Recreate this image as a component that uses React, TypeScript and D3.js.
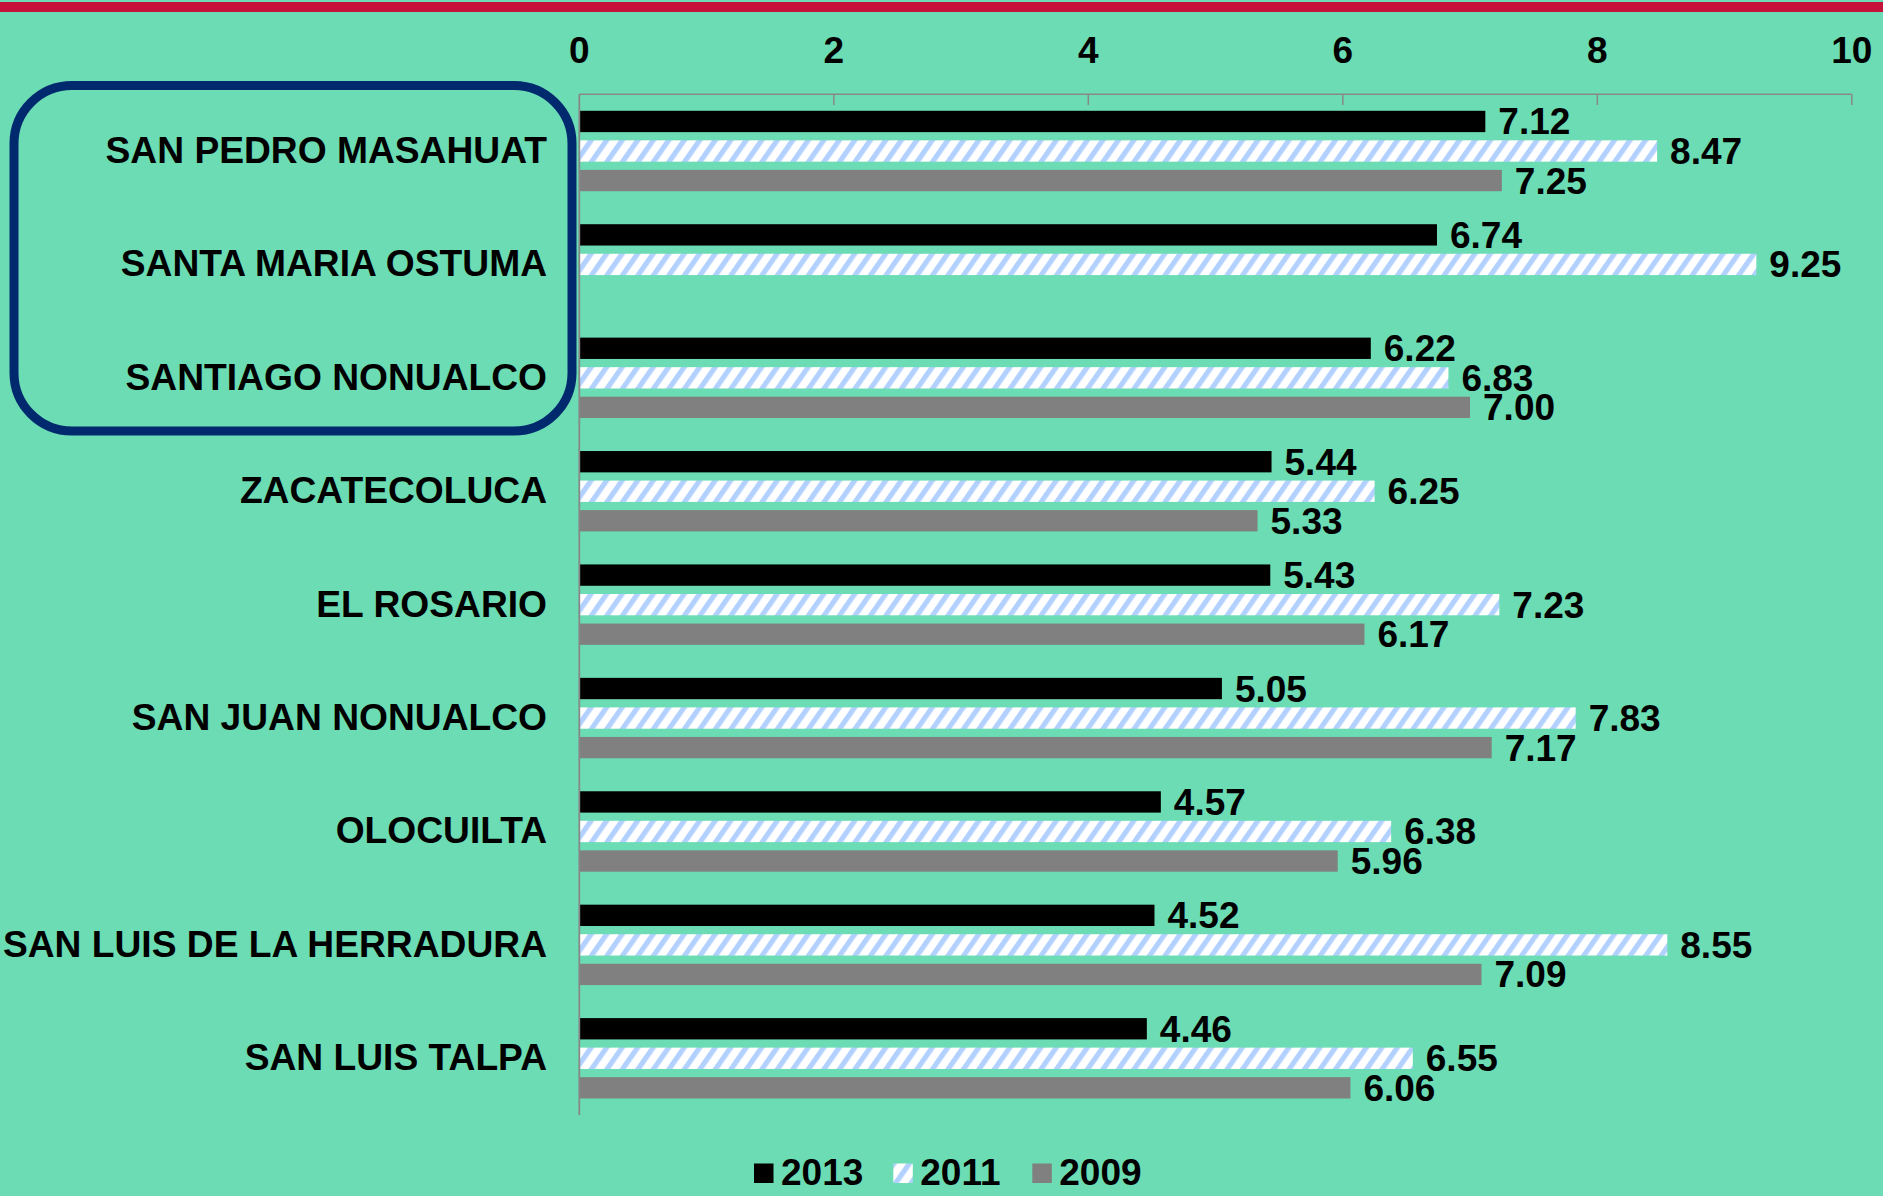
import React from "react";
import * as d3 from "d3";

const categories = [
  "SAN PEDRO MASAHUAT",
  "SANTA MARIA OSTUMA",
  "SANTIAGO NONUALCO",
  "ZACATECOLUCA",
  "EL ROSARIO",
  "SAN JUAN NONUALCO",
  "OLOCUILTA",
  "SAN LUIS DE LA HERRADURA",
  "SAN LUIS TALPA",
];
const seriesNames = ["2013", "2011", "2009"];
const values2013 = [7.12, 6.74, 6.22, 5.44, 5.43, 5.05, 4.57, 4.52, 4.46];
const values2011 = [8.47, 9.25, 6.83, 6.25, 7.23, 7.83, 6.38, 8.55, 6.55];
const values2009: (number | null)[] = [7.25, null, 7.0, 5.33, 6.17, 7.17, 5.96, 7.09, 6.06];
const xTicks = [0, 2, 4, 6, 8, 10];

const W = 1883;
const H = 1196;
const BG = "#6BDCB3";
const FONT = "'Liberation Sans', Arial, sans-serif";
const fills = ["#000000", "url(#stripes)", "#808080"];

export default function App() {
  const x = d3.scaleLinear().domain([0, 10]).range([579.3, 1851.8]);
  const y0 = d3.scaleBand<string>().domain(categories).range([94.3, 1115]);
  const bw = y0.bandwidth();
  const y1 = d3
    .scaleBand<string>()
    .domain(seriesNames)
    .range([16.5, bw - 16.5])
    .paddingInner(0.278);
  const allSeries = [values2013, values2011, values2009];
  const fmt = d3.format(".2f");

  const legendX = [754, 893.3, 1032.3];

  return (
    <svg
      width={W}
      height={H}
      style={{ position: "absolute", left: 0, top: 0 }}
      fontFamily={FONT}
    >
      <defs>
        <pattern
          id="stripes"
          patternUnits="userSpaceOnUse"
          width={12.7}
          height={12.7}
          patternTransform="rotate(35)"
        >
          <rect width={12.7} height={12.7} fill="#ffffff" />
          <rect x={0} y={0} width={5.2} height={12.7} fill="#B3D1FF" />
        </pattern>
      </defs>
      <rect x={0} y={0} width={W} height={H} fill={BG} />
      <rect x={0} y={2} width={W} height={10} fill="#C4123A" />

      {/* rounded highlight box */}
      <rect
        x={14}
        y={85.5}
        width={558}
        height={345.5}
        rx={58}
        ry={58}
        fill="none"
        stroke="#00296E"
        strokeWidth={9}
      />

      {/* bars */}
      {categories.map((c, i) => (
        <g key={c} transform={`translate(0,${y0(c)})`}>
          {allSeries.map((vals, s) => {
            const v = vals[i];
            if (v === null || v === undefined) return null;
            const yy = y1(seriesNames[s])!;
            const h = y1.bandwidth();
            return (
              <g key={s}>
                <rect
                  x={x(0)}
                  y={yy}
                  width={x(v) - x(0)}
                  height={h}
                  fill={fills[s]}
                />
                <text
                  x={x(v) + 13}
                  y={yy + h / 2 + 13}
                  fontSize={37}
                  fontWeight="bold"
                  fill="#000"
                >
                  {fmt(v)}
                </text>
              </g>
            );
          })}
        </g>
      ))}

      {/* axes */}
      <line x1={x(0)} x2={x(10)} y1={94.3} y2={94.3} stroke="#888888" strokeWidth={1.5} />
      <line x1={x(0)} x2={x(0)} y1={94.3} y2={1115} stroke="#888888" strokeWidth={1.8} />
      {xTicks.map((t) => (
        <g key={t}>
          {t > 0 && (
            <line x1={x(t)} x2={x(t)} y1={94.3} y2={105} stroke="#888888" strokeWidth={1.5} />
          )}
          <text
            x={x(t)}
            y={63}
            textAnchor="middle"
            fontSize={37}
            fontWeight="bold"
            fill="#000"
          >
            {t}
          </text>
        </g>
      ))}

      {/* category labels */}
      {categories.map((c) => (
        <text
          key={c}
          x={547}
          y={y0(c)! + bw / 2 + 12}
          textAnchor="end"
          fontSize={37.2}
          fontWeight="bold"
          fill="#000"
        >
          {c}
        </text>
      ))}

      {/* legend */}
      {seriesNames.map((s, i) => (
        <g key={s}>
          <rect x={legendX[i]} y={1163.5} width={19.5} height={19.5} fill={fills[i]} />
          <text x={legendX[i] + 27} y={1185} fontSize={37} fontWeight="bold" fill="#000">
            {s}
          </text>
        </g>
      ))}
    </svg>
  );
}
